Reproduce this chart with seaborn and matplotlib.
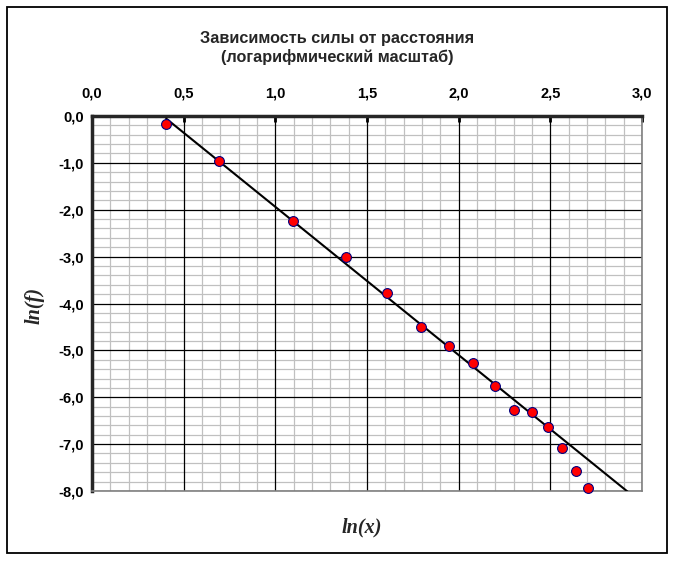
import numpy as np
import pandas as pd
import matplotlib
matplotlib.use('Agg')
import matplotlib.pyplot as plt
import seaborn as sns
from matplotlib.ticker import MultipleLocator, FuncFormatter
from matplotlib.patches import Rectangle

# данные: ln(x) и ln(f)
ln_x = [0.405, 0.693, 1.099, 1.386, 1.609, 1.792, 1.946, 2.079, 2.197, 2.303, 2.398, 2.485, 2.565, 2.639, 2.708]
ln_f = [-0.17, -0.96, -2.24, -3.01, -3.77, -4.50, -4.90, -5.27, -5.76, -6.27, -6.31, -6.63, -7.08, -7.57, -7.93]
title = 'Зависимость силы от расстояния\n(логарифмический масштаб)'
fit_n = 12       # линия тренда по первым 12 точкам
forecast = 0.45  # продление линии тренда вперёд

df = pd.DataFrame({'ln_x': ln_x, 'ln_f': ln_f})

sns.set_style('white')
plt.rcParams['font.family'] = ['Liberation Sans', 'DejaVu Sans']

fig = plt.figure(figsize=(6.79, 5.62), dpi=100)
ax = fig.add_axes([92/679, 1-491/562, 550/679, 375/562])

ax.set_xlim(0, 3)
ax.set_ylim(-8, 0)
ax.xaxis.set_major_locator(MultipleLocator(0.5))
ax.xaxis.set_minor_locator(MultipleLocator(0.1))
ax.yaxis.set_major_locator(MultipleLocator(1))
ax.yaxis.set_minor_locator(MultipleLocator(0.2))

# сетка: мелкая серая, крупная чёрная поверх
ax.grid(which='minor', color='#c0c0c0', lw=0.9)
ax.set_axisbelow(True)
for v in ax.get_xticks():
    ax.axvline(v, color='black', lw=0.9, zorder=1)
for v in ax.get_yticks():
    ax.axhline(v, color='black', lw=0.9, zorder=1)

# линия тренда (линейная аппроксимация)
k, b = np.polyfit(df['ln_x'][:fit_n], df['ln_f'][:fit_n], 1)
tx = np.array([df['ln_x'].min(), df['ln_x'][fit_n-1] + forecast])
ax.plot(tx, k*tx + b, color='black', lw=1.5, zorder=3)

sns.scatterplot(data=df, x='ln_x', y='ln_f', ax=ax, color='red', edgecolor='#000080',
                linewidth=0.8, s=50, zorder=4, clip_on=False)

ax.set_xlim(0, 3)
ax.set_ylim(-8, 0)
fmt = FuncFormatter(lambda v, p: f'{v:.1f}'.replace('.', ','))
ax.xaxis.set_major_formatter(fmt)
ax.yaxis.set_major_formatter(fmt)
ax.xaxis.tick_top()

ax.tick_params(axis='x', which='major', direction='in', length=4, width=2, colors='black',
               labelsize=10.5, pad=11, top=True, bottom=False)
ax.tick_params(axis='y', which='major', direction='out', length=4, width=2, colors='black',
               labelsize=10.5, pad=2)
ax.tick_params(which='minor', length=0)
for lab in ax.get_xticklabels() + ax.get_yticklabels():
    lab.set_fontweight('bold')

ax.spines['left'].set_linewidth(2.5)
ax.spines['top'].set_linewidth(2.5)
ax.spines['right'].set_color('#808080')
ax.spines['bottom'].set_color('#808080')
ax.spines['right'].set_linewidth(1.2)
ax.spines['bottom'].set_linewidth(1.2)

ax.set_xlabel('')
ax.set_ylabel('')
fig.text(337/679, 1-48/562, title, ha='center', va='center', fontsize=11.7,
         fontweight='bold', linespacing=1.3)
fig.text(35/679, 1-305/562, 'ln(f)', rotation=90, ha='center', va='center',
         fontsize=14.5, fontweight='bold', fontstyle='italic', family='Liberation Serif')
fig.text(362/679, 1-527/562, 'ln(x)', ha='center', va='center',
         fontsize=14.5, fontweight='bold', fontstyle='italic', family='Liberation Serif')

fig.patches.append(Rectangle((7/679, 1-553/562), 660/679, 546/562, transform=fig.transFigure,
                             fill=False, edgecolor='black', lw=1.3))

plt.savefig('out.png', dpi=100)
